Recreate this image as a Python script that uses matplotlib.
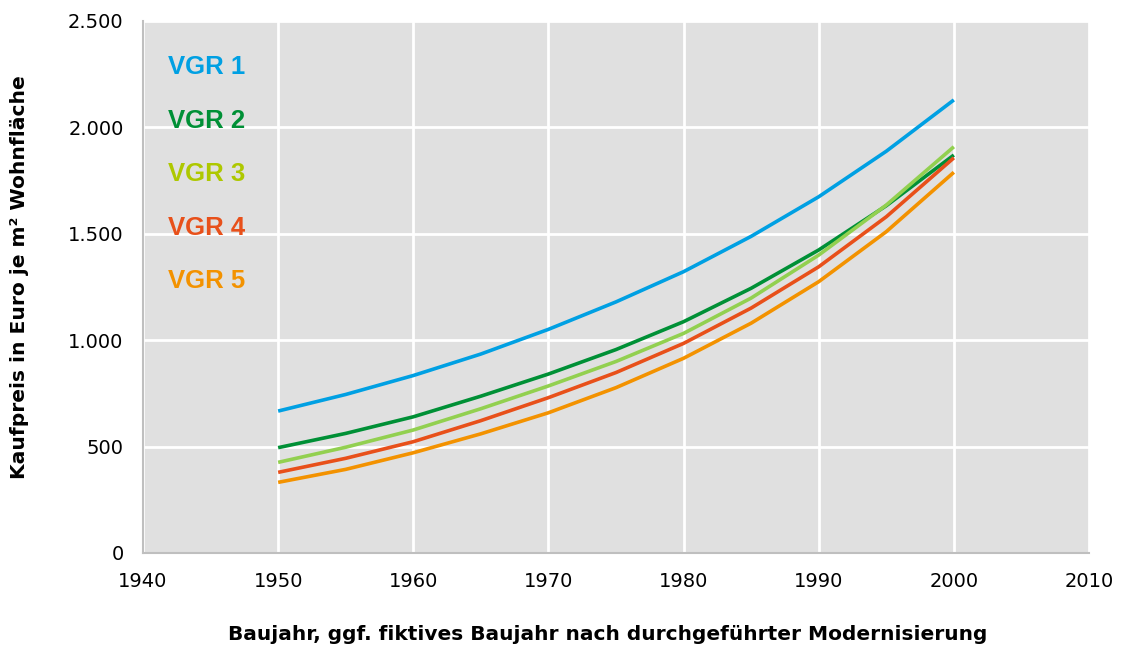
import matplotlib
matplotlib.use("Agg")
import matplotlib.pyplot as plt

plt.rcParams['font.family'] = ['Liberation Sans', 'DejaVu Sans']

years = [1950, 1955, 1960, 1965, 1970, 1975, 1980, 1985, 1990, 1995, 2000]
vgr1 = [667, 745, 834, 935, 1051, 1180, 1322, 1488, 1674, 1888, 2129]
vgr2 = [495, 562, 640, 737, 841, 956, 1087, 1244, 1424, 1632, 1870]
vgr3 = [426, 497, 578, 678, 785, 900, 1032, 1198, 1400, 1635, 1909]
vgr4 = [379, 445, 523, 622, 730, 848, 985, 1151, 1345, 1580, 1857]
vgr5 = [332, 393, 471, 560, 659, 777, 915, 1080, 1275, 1510, 1789]

labels = ["VGR 1", "VGR 2", "VGR 3", "VGR 4", "VGR 5"]
series = [vgr1, vgr2, vgr3, vgr4, vgr5]
line_colors = ["#00A0E3", "#009036", "#92D050", "#E8501A", "#F39200"]
text_colors = ["#00A0E3", "#009036", "#AEC800", "#E8501A", "#F39200"]

x_ticks = [1940, 1950, 1960, 1970, 1980, 1990, 2000, 2010]
y_ticks = [0, 500, 1000, 1500, 2000, 2500]
y_ticklabels = ["0", "500", "1.000", "1.500", "2.000", "2.500"]

fig = plt.figure(figsize=(11.25, 6.51), dpi=100)
ax = fig.add_axes([143 / 1125, 1 - 553 / 651, 946 / 1125, 532 / 651])
ax.set_facecolor("#E0E0E0")

for vals, c in zip(series, line_colors):
    ax.plot(years, vals, color=c, lw=2.6, solid_capstyle='butt',
            solid_joinstyle='round', zorder=3)

ax.set_xlim(1940, 2010)
ax.set_ylim(0, 2500)
ax.set_xticks(x_ticks)
ax.set_yticks(y_ticks)
ax.set_yticklabels(y_ticklabels)
ax.grid(True, color="white", lw=2)
ax.set_axisbelow(True)
ax.tick_params(length=0, colors="black")
ax.tick_params(axis='y', pad=14)
ax.tick_params(axis='x', pad=14)
for lab in ax.get_xticklabels() + ax.get_yticklabels():
    lab.set_fontfamily('DejaVu Sans')
    lab.set_fontsize(14)
for s in ["top", "right"]:
    ax.spines[s].set_visible(False)
for s in ["left", "bottom"]:
    ax.spines[s].set_color("#BFBFBF")
    ax.spines[s].set_linewidth(1.5)

for i, (lab, c) in enumerate(zip(labels, text_colors)):
    ax.text(0.0264, 0.9135 - i * 0.1006, lab, transform=ax.transAxes,
            color=c, fontsize=18.5, fontweight='bold', va='center', ha='left')

fig.text(20 / 1125, 1 - 277 / 651, "Kaufpreis in Euro je m² Wohnfläche",
         rotation=90, fontsize=14.6, fontweight='bold', ha='center', va='center',
         family='DejaVu Sans')
fig.text(608 / 1125, 1 - 634 / 651,
         "Baujahr, ggf. fiktives Baujahr nach durchgeführter Modernisierung",
         fontsize=14.5, fontweight='bold', ha='center', va='center',
         family='DejaVu Sans')

fig.savefig("out.png", dpi=100)
